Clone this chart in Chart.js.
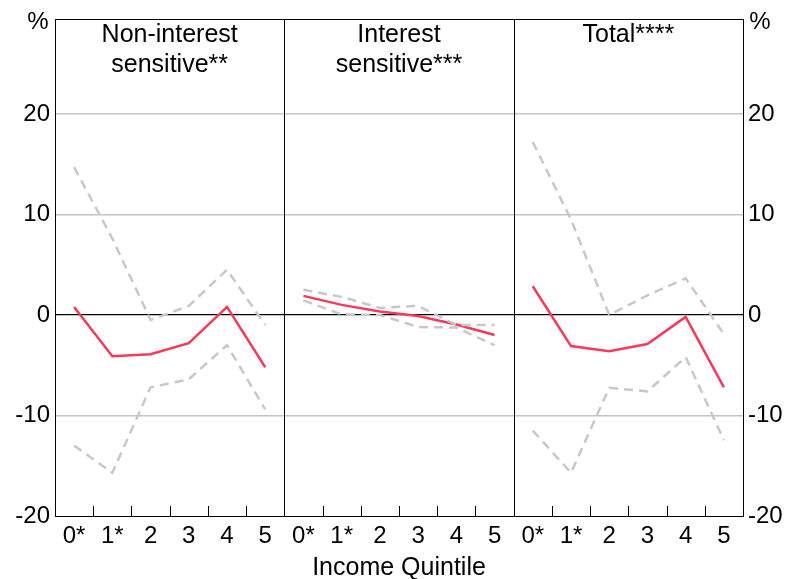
<!DOCTYPE html>
<html>
<head>
<meta charset="utf-8">
<script src="https://cdn.jsdelivr.net/npm/chart.js@4"></script>
<style>
  html, body { margin: 0; padding: 0; background: #fff; }
  #wrap { width: 791px; height: 579px; }
</style>
</head>
<body>
<div id="wrap"><canvas id="chart" width="791" height="579"></canvas></div>
<script>
// ---- data ----
const quintiles = ['0*', '1*', '2', '3', '4', '5'];
const panelTitles = [['Non-interest', 'sensitive**'], ['Interest', 'sensitive***'], ['Total****']];

const nonIntEst   = [0.8, -4.1, -3.9, -2.8, 0.8, -5.2];
const nonIntUpper = [14.7, 7.6, -0.5, 0.9, 4.5, -1.0];
const nonIntLower = [-13.0, -15.7, -7.2, -6.4, -3.0, -9.4];

const intEst   = [1.9, 1.0, 0.35, -0.1, -0.95, -2.0];
const intUpper = [2.5, 1.8, 0.7, 0.9, -1.0, -1.0];
const intLower = [1.45, 0.05, 0.0, -1.2, -1.25, -3.0];

const totalEst   = [2.85, -3.1, -3.6, -2.9, -0.2, -7.2];
const totalUpper = [17.2, 9.5, 0.0, 1.95, 3.65, -1.9];
const totalLower = [-11.5, -15.7, -7.25, -7.6, -4.2, -12.45];

const yMin = -20, yMax = 29.4;

// ---- helpers ----
const FONT = "'Liberation Sans', Arial, sans-serif";
const RED = '#f53a5c', GREY = '#c8c8c8';
const labels = [].concat(quintiles, quintiles, quintiles);

function slot(vals, panel) {
  const out = new Array(labels.length).fill(null);
  vals.forEach((v, i) => out[panel * quintiles.length + i] = v);
  return out;
}
function band(vals, panel) {
  return { data: slot(vals, panel), borderColor: GREY, borderWidth: 2.5, borderDash: [9, 6],
           pointRadius: 0, fill: false, spanGaps: false, tension: 0 };
}
function est(vals, panel) {
  return { data: slot(vals, panel), borderColor: RED, borderWidth: 2.5,
           pointRadius: 0, fill: false, spanGaps: false, tension: 0 };
}

const datasets = [];
[[nonIntEst, nonIntUpper, nonIntLower], [intEst, intUpper, intLower], [totalEst, totalUpper, totalLower]]
  .forEach((s, p) => { datasets.push(band(s[1], p), band(s[2], p)); });
[nonIntEst, intEst, totalEst].forEach((s, p) => datasets.push(est(s, p)));

// frame, panel dividers, inner ticks, panel titles, % labels
const panelPlugin = {
  id: 'panels',
  beforeDatasetsDraw(chart) {
    const { ctx, chartArea: a } = chart;
    const n = labels.length;
    const step = (a.right - a.left) / n;
    ctx.save();
    ctx.strokeStyle = '#000';
    ctx.lineWidth = 1;
    ctx.beginPath();
    for (let i = 1; i < n; i++) {
      const px = Math.round(a.left + i * step) + 0.5;
      if (i % quintiles.length === 0) {
        ctx.moveTo(px, a.top); ctx.lineTo(px, a.bottom);
      } else {
        ctx.moveTo(px, a.bottom); ctx.lineTo(px, a.bottom - 10);
      }
    }
    ctx.stroke();
    ctx.restore();
  },
  afterDraw(chart) {
    const { ctx, chartArea: a } = chart;
    ctx.save();
    ctx.strokeStyle = '#000';
    ctx.lineWidth = 1;
    ctx.strokeRect(Math.round(a.left) + 0.5, Math.round(a.top) + 0.5,
                   Math.round(a.right - a.left), Math.round(a.bottom - a.top));
    ctx.fillStyle = '#000';
    ctx.font = '25px ' + FONT;
    ctx.textAlign = 'center';
    ctx.textBaseline = 'middle';
    const pw = (a.right - a.left) / 3;
    panelTitles.forEach((lines, p) => {
      const cx = a.left + pw * (p + 0.5);
      lines.forEach((t, j) => ctx.fillText(t, cx, 35 + j * 30));
    });
    ctx.font = '24px ' + FONT;
    ctx.fillText('%', a.left - 17, 22);
    ctx.fillText('%', a.right + 17, 22);
    ctx.restore();
  }
};

const yTicks = {
  stepSize: 10, color: '#000', padding: 5,
  font: { family: FONT, size: 24 },
  callback: v => (v > 20 ? '' : v)
};

new Chart(document.getElementById('chart'), {
  type: 'line',
  data: { labels, datasets },
  options: {
    responsive: false, animation: false,
    layout: { padding: { top: 15, left: 0, right: 0, bottom: 0 } },
    plugins: { legend: { display: false }, tooltip: { enabled: false } },
    scales: {
      x: {
        offset: true,
        grid: { display: false, drawTicks: false },
        border: { display: true, color: '#000' },
        ticks: { color: '#000', padding: 6, maxRotation: 0, autoSkip: false, font: { family: FONT, size: 24 } },
        title: { display: true, text: 'Income Quintile', color: '#000', padding: { top: 2, bottom: -4 },
                 font: { family: FONT, size: 25 } },
        afterFit: s => { s.height = 63; }
      },
      y: {
        position: 'left', min: yMin, max: yMax,
        ticks: yTicks,
        border: { display: true, color: '#000' },
        grid: {
          drawTicks: false,
          color: c => (c.tick.value === 0 ? '#000' : ([-10, 10, 20].includes(c.tick.value) ? '#c4c4c4' : 'rgba(0,0,0,0)')),
          lineWidth: c => (c.tick.value === 0 ? 1.2 : 1.5)
        },
        afterFit: s => { s.width = 55; }
      },
      y2: {
        position: 'right', min: yMin, max: yMax,
        ticks: yTicks,
        border: { display: true, color: '#000' },
        grid: { display: false, drawTicks: false },
        afterFit: s => { s.width = 48; }
      }
    }
  },
  plugins: [panelPlugin]
});
</script>
</body>
</html>
